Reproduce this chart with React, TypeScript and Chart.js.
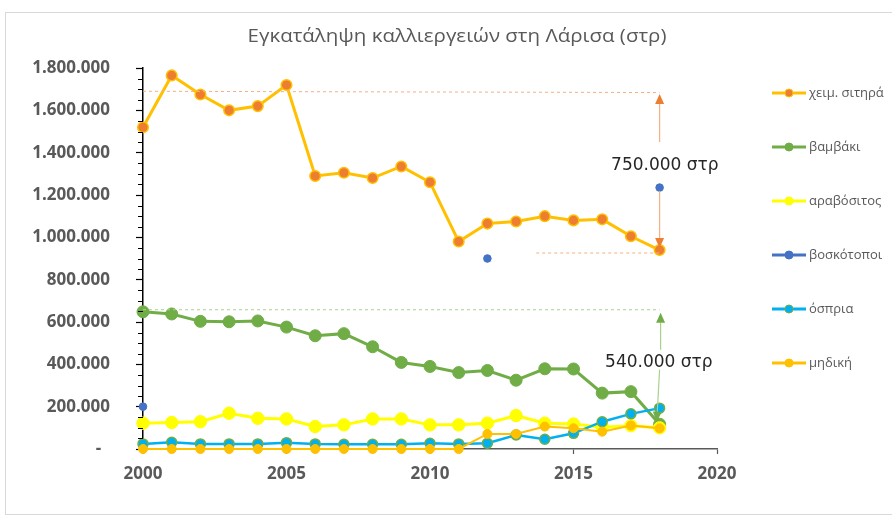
import React, { useEffect, useRef } from "react";
import { Chart, registerables } from "chart.js";

Chart.register(...registerables);

const TITLE = "Εγκατάληψη καλλιεργειών στη Λάρισα (στρ)";
const years = [2000, 2001, 2002, 2003, 2004, 2005, 2006, 2007, 2008, 2009, 2010, 2011, 2012, 2013, 2014, 2015, 2016, 2017, 2018];
const seriesNames = ["χειμ. σιτηρά", "βαμβάκι", "αραβόσιτος", "βοσκότοποι", "όσπρια", "μηδική"];
const wheat = [1520000, 1765000, 1675000, 1600000, 1620000, 1720000, 1290000, 1305000, 1280000, 1335000, 1260000, 980000, 1065000, 1075000, 1100000, 1080000, 1085000, 1005000, 940000];
const cotton = [648000, 638000, 603000, 601000, 605000, 576000, 535000, 545000, 483000, 409000, 390000, 361000, 371000, 325000, 379000, 378000, 264000, 271000, 117000];
const corn = [122000, 125000, 129000, 169000, 145000, 142000, 106000, 114000, 142000, 142000, 114000, 114000, 122000, 158000, 122000, 118000, 103000, 110000, 100000];
const pasture = [200000, null, null, null, null, null, null, null, null, null, null, null, 900000, null, null, null, null, null, 1235000];
const legumes = [24000, 32000, 24000, 24000, 24000, 30000, 24000, 22000, 22000, 22000, 27000, 24000, 27000, 66000, 46000, 74000, 129000, 166000, 193000];
const alfalfa = [0, 0, 0, 0, 0, 0, 0, 0, 0, 0, 0, 0, 71000, 71000, 106000, 98000, 82000, 111000, 98000];
const yTicks = [0, 200000, 400000, 600000, 800000, 1000000, 1200000, 1400000, 1600000, 1800000];
const xTicks = [2000, 2005, 2010, 2015, 2020];
const noteTexts = ["750.000 στρ", "540.000 στρ"];
// reference levels used by the annotation arrows (values in στρ)
const wheatRefLevel = [1690000, 1684000];
const wheatLowLevel = 926000;
const cottonRefLevel = 658000;
const wheatArrowUp = [1450000, 1677000];
const wheatArrowDown = [1219000, 950000];
const cottonArrowUp = [469000, 644000];
const cottonArrowDown = [374000, 129000];

const fmt = (v: number) =>
  v === 0 ? "-  " : String(Math.round(v)).replace(/\B(?=(\d{3})+(?!\d))/g, ".");

const styles = [
  { line: "#FFC000", fill: "#ED7D31", border: "#FFC000", r: 5.3, bw: 1.5, lw: 3 },
  { line: "#70AD47", fill: "#70AD47", border: "#70AD47", r: 6, bw: 1, lw: 3 },
  { line: "#FFFF00", fill: "#FFFF00", border: "#FFFF00", r: 6.2, bw: 1, lw: 3 },
  { line: "#4472C4", fill: "#4472C4", border: "#4472C4", r: 3.8, bw: 1, lw: 2.5 },
  { line: "#00B0F0", fill: "#00B0F0", border: "#70AD47", r: 5, bw: 1.5, lw: 2.5 },
  { line: "#FFC000", fill: "#FFC000", border: "#FFC000", r: 4.5, bw: 1, lw: 2 },
];

const seriesValues = [wheat, cotton, corn, pasture, legumes, alfalfa];

function drawArrow(ctx: CanvasRenderingContext2D, x1: number, y1: number, x2: number, y2: number, lineColor: string, headColor: string) {
  const ang = Math.atan2(y2 - y1, x2 - x1);
  const hl = 10, hw = 4.5;
  const bx = x2 - hl * Math.cos(ang), by = y2 - hl * Math.sin(ang);
  ctx.save();
  ctx.strokeStyle = lineColor;
  ctx.lineWidth = 1.2;
  ctx.setLineDash([]);
  ctx.beginPath();
  ctx.moveTo(x1, y1);
  ctx.lineTo(bx, by);
  ctx.stroke();
  ctx.fillStyle = headColor;
  ctx.beginPath();
  ctx.moveTo(x2, y2);
  ctx.lineTo(bx + hw * Math.sin(ang), by - hw * Math.cos(ang));
  ctx.lineTo(bx - hw * Math.sin(ang), by + hw * Math.cos(ang));
  ctx.closePath();
  ctx.fill();
  ctx.restore();
}

const decorPlugin = {
  id: "decor",
  beforeDraw(chart: any) {
    const ctx = chart.ctx as CanvasRenderingContext2D;
    ctx.save();
    ctx.fillStyle = "#ffffff";
    ctx.fillRect(0, 0, chart.width, chart.height);
    ctx.strokeStyle = "#D9D9D9";
    ctx.lineWidth = 1;
    ctx.strokeRect(5.5, 12.5, 1000, 502);
    ctx.fillStyle = "#595959";
    ctx.font = "17.5px 'Open Sans'";
    ctx.textAlign = "center";
    ctx.textBaseline = "middle";
    ctx.translate(457, 37);
    ctx.scale(1.17, 1);
    ctx.fillText(TITLE, 0, 0);
    ctx.restore();
  },
  afterDraw(chart: any) {
    const ctx = chart.ctx as CanvasRenderingContext2D;
    const xs = chart.scales.x, ys = chart.scales.y;
    ctx.save();
    // minor ticks on y axis
    ctx.strokeStyle = "#000";
    ctx.lineWidth = 1;
    for (let v = 50000; v < 1800000; v += 50000) {
      if (v % 200000 === 0) continue;
      const py = Math.round(ys.getPixelForValue(v)) + 0.5;
      ctx.beginPath();
      ctx.moveTo(xs.left - 5, py);
      ctx.lineTo(xs.left, py);
      ctx.stroke();
    }
    // legend
    ctx.font = "13px 'Open Sans'";
    ctx.textBaseline = "middle";
    ctx.textAlign = "left";
    seriesNames.forEach((name, i) => {
      const st = styles[i];
      const y = 93 + i * 54;
      ctx.strokeStyle = st.line;
      ctx.lineWidth = 3;
      ctx.beginPath();
      ctx.moveTo(772, y);
      ctx.lineTo(806, y);
      ctx.stroke();
      ctx.fillStyle = st.fill;
      ctx.strokeStyle = st.border;
      ctx.lineWidth = 1;
      ctx.beginPath();
      ctx.arc(789, y, 4, 0, Math.PI * 2);
      ctx.fill();
      ctx.stroke();
      ctx.fillStyle = "#595959";
      ctx.fillText(name, 809, y);
    });
    ctx.restore();
  },
  afterDatasetsDraw(chart: any) {
    const ctx = chart.ctx as CanvasRenderingContext2D;
    const xs = chart.scales.x, ys = chart.scales.y;
    const X = (v: number) => xs.getPixelForValue(v);
    const Y = (v: number) => ys.getPixelForValue(v);
    const lastYear = years[years.length - 1];
    ctx.save();
    ctx.lineWidth = 1;
    ctx.setLineDash([3, 3]);
    ctx.strokeStyle = "#F4B183";
    ctx.beginPath();
    ctx.moveTo(X(years[0]), Y(wheatRefLevel[0]));
    ctx.lineTo(X(lastYear), Y(wheatRefLevel[1]));
    ctx.stroke();
    ctx.beginPath();
    ctx.moveTo(X(2013.7), Y(wheatLowLevel));
    ctx.lineTo(X(lastYear), Y(wheatLowLevel));
    ctx.stroke();
    ctx.strokeStyle = "#A9D18E";
    ctx.beginPath();
    ctx.moveTo(X(years[0]), Y(cottonRefLevel));
    ctx.lineTo(X(lastYear), Y(cottonRefLevel));
    ctx.stroke();
    ctx.restore();

    drawArrow(ctx, X(lastYear), Y(wheatArrowUp[0]), X(lastYear), Y(wheatArrowUp[1]), "#F4B183", "#ED7D31");
    drawArrow(ctx, X(lastYear), Y(wheatArrowDown[0]), X(lastYear), Y(wheatArrowDown[1]), "#F4B183", "#ED7D31");
    drawArrow(ctx, X(lastYear) + 1, Y(cottonArrowUp[0]), X(lastYear) + 1, Y(cottonArrowUp[1]), "#A9D18E", "#70AD47");
    drawArrow(ctx, X(lastYear), Y(cottonArrowDown[0]), X(lastYear - 0.1), Y(cottonArrowDown[1]), "#A9D18E", "#70AD47");

    ctx.save();
    ctx.fillStyle = "#262626";
    ctx.font = "17px 'DejaVu Sans'";
    ctx.textAlign = "left";
    ctx.textBaseline = "middle";
    ctx.fillText(noteTexts[0], X(2016.31), Y(1340000));
    ctx.fillText(noteTexts[1], X(2016.1), Y(407000));
    ctx.restore();
  },
};

export default function App() {
  const ref = useRef<HTMLCanvasElement>(null);
  useEffect(() => {
    if (!ref.current) return;
    const datasets = seriesNames.map((name, i) => {
      const st = styles[i];
      return {
        label: name,
        data: years.map((yr, j) => ({ x: yr, y: seriesValues[i][j] })),
        borderColor: st.line,
        backgroundColor: st.fill,
        borderWidth: st.lw,
        pointRadius: st.r,
        pointBackgroundColor: st.fill,
        pointBorderColor: st.border,
        pointBorderWidth: st.bw,
        pointHoverRadius: st.r,
        spanGaps: false,
        tension: 0,
        clip: false,
        order: seriesNames.length - i,
      };
    });
    const chart = new Chart(ref.current, {
      type: "line",
      data: { datasets: datasets as any },
      options: {
        responsive: false,
        animation: false,
        layout: { padding: { left: 0, top: 68, right: 175, bottom: 0 } },
        plugins: { legend: { display: false }, tooltip: { enabled: false }, title: { display: false } },
        scales: {
          x: {
            type: "linear",
            min: xTicks[0],
            max: xTicks[xTicks.length - 1],
            afterBuildTicks: (s: any) => { s.ticks = xTicks.map((v) => ({ value: v })); },
            afterFit: (s: any) => { s.height = 68; },
            ticks: {
              callback: (v: any) => String(v),
              color: "#595959",
              font: { family: "'Open Sans'", size: 17, weight: "bold" },
              padding: 10,
              maxRotation: 0,
            },
            grid: { drawOnChartArea: false, tickLength: 5, color: "#595959", tickWidth: 1.2 },
            border: { display: true, color: "#595959", width: 1.5 },
          },
          y: {
            type: "linear",
            min: yTicks[0],
            max: yTicks[yTicks.length - 1],
            afterBuildTicks: (s: any) => { s.ticks = yTicks.map((v) => ({ value: v })); },
            afterFit: (s: any) => { s.width = 143; },
            ticks: {
              callback: (v: any) => fmt(Number(v)),
              color: "#595959",
              font: { family: "'Open Sans'", size: 17, weight: "bold" },
              padding: 26,
            },
            grid: { drawOnChartArea: false, tickLength: 7, color: "#000", tickWidth: 1.2 },
            border: { display: true, color: "#000", width: 1.5 },
          },
        },
      } as any,
      plugins: [decorPlugin],
    });
    return () => chart.destroy();
  }, []);
  return (
    <div style={{ position: "fixed", left: 0, top: 0, width: 892, height: 517 }}>
      <canvas ref={ref} width={892} height={517} style={{ display: "block" }} />
    </div>
  );
}
